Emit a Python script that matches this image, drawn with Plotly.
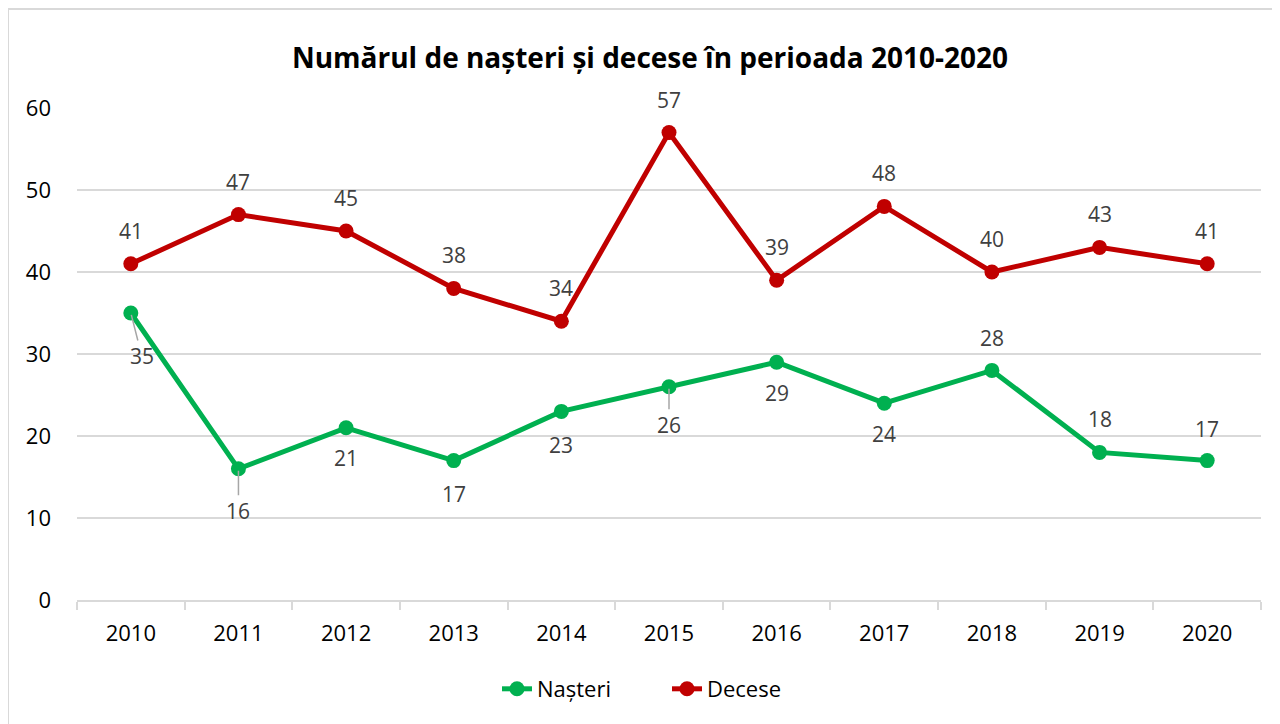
import plotly.graph_objects as go

years = ["2010", "2011", "2012", "2013", "2014", "2015", "2016", "2017", "2018", "2019", "2020"]
nasteri = [35, 16, 21, 17, 23, 26, 29, 24, 28, 18, 17]
decese = [41, 47, 45, 38, 34, 57, 39, 48, 40, 43, 41]

# label offsets (px) for Nașteri data labels
n_yshift = [-43, -42, -30, -33, -34, -38, -31, -31, 32, 33, 32]
n_xshift = [11, 0, 0, 0, 0, 0, 0, 0, 0, 0, 0]
n_leader = [True, True, False, False, False, True, False, False, False, False, False]

GREEN = "#00B050"
RED = "#C00000"
FONT = "Open Sans"
LBL = dict(family=FONT, size=21, color="#404040")

fig = go.Figure()
fig.add_trace(go.Scatter(x=years, y=nasteri, name="Nașteri", mode="lines+markers",
                         line=dict(color=GREEN, width=5),
                         marker=dict(color=GREEN, size=15)))
fig.add_trace(go.Scatter(x=years, y=decese, name="Decese", mode="lines+markers",
                         line=dict(color=RED, width=5),
                         marker=dict(color=RED, size=15)))

anns = []
for i, v in enumerate(decese):
    anns.append(dict(x=i, y=v, xref="x", yref="y", text=str(v), showarrow=False, yshift=33, font=LBL))
for i, (v, ys, xs, ld) in enumerate(zip(nasteri, n_yshift, n_xshift, n_leader)):
    if ld:
        anns.append(dict(x=i, y=v, xref="x", yref="y", text=str(v), showarrow=True, ax=xs, ay=-ys,
                         arrowhead=0, arrowwidth=1.5, arrowcolor="#a6a6a6", standoff=2, font=LBL))
    else:
        anns.append(dict(x=i, y=v, xref="x", yref="y", text=str(v), showarrow=False,
                         yshift=ys, xshift=xs, font=LBL))

OFF = 8  # page body margin
W, H = 1280, 724
L, T = 77 - OFF, 108 - OFF
R = W - (1261 - OFF)
B = H - (600 - OFF)
pw, ph = W - L - R, H - T - B

fig.add_shape(type="rect", xref="paper", yref="paper",
              x0=(8 - OFF - L) / pw, x1=(W + 20 - L) / pw,
              y0=-(H + 20 - (H - B)) / ph, y1=((H - B) - (9 - OFF)) / ph,
              line=dict(color="#d9d9d9", width=2), fillcolor="rgba(0,0,0,0)", layer="below")

fig.update_layout(
    width=W, height=H,
    margin=dict(l=L, r=R, t=T, b=B),
    paper_bgcolor="white", plot_bgcolor="white",
    title=dict(text="<b>Numărul de nașteri și decese în perioada 2010-2020</b>",
               x=(650 - OFF) / W, xanchor="center", y=1 - (58 - OFF) / H, yanchor="middle",
               font=dict(family=FONT, size=28, color="#000000")),
    font=dict(family=FONT, size=21, color="#000000"),
    showlegend=True,
    legend=dict(orientation="h", x=(667 - OFF - L) / pw, xanchor="center",
                y=-((689 - OFF) - (H - B)) / ph, yanchor="middle",
                entrywidth=125, entrywidthmode="pixels",
                font=dict(family=FONT, size=22, color="#000000")),
    annotations=anns,
    xaxis=dict(type="category", range=[-0.5, 10.5], showgrid=False,
               showline=True, linecolor="#d9d9d9", linewidth=2,
               ticks="outside", tickson="boundaries", ticklen=8, tickcolor="#d9d9d9", tickwidth=2,
               ticklabelstandoff=13,
               tickfont=dict(family=FONT, size=22, color="#000000")),
    yaxis=dict(range=[0, 60], dtick=10, showgrid=True, gridcolor="#d9d9d9", gridwidth=2,
               zeroline=False, showline=False, ticks="", ticklabelstandoff=25,
               tickfont=dict(family=FONT, size=22, color="#000000")),
)

fig.write_html("out.html")
